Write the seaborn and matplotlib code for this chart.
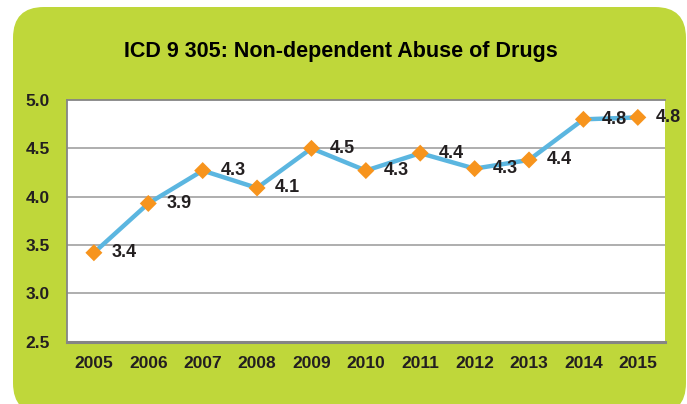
import matplotlib
matplotlib.use("Agg")
import matplotlib.pyplot as plt
from matplotlib.patches import FancyBboxPatch
import seaborn as sns
import pandas as pd

years = ["2005", "2006", "2007", "2008", "2009", "2010", "2011", "2012", "2013", "2014", "2015"]
values = [3.42, 3.93, 4.27, 4.09, 4.50, 4.27, 4.45, 4.29, 4.38, 4.80, 4.82]
labels = ["3.4", "3.9", "4.3", "4.1", "4.5", "4.3", "4.4", "4.3", "4.4", "4.8", "4.8"]
y_ticks = [2.5, 3.0, 3.5, 4.0, 4.5, 5.0]
title = "ICD 9 305: Non-dependent Abuse of Drugs"

sns.set_theme(style="white")
FONT = ["Liberation Sans Narrow", "Liberation Sans", "DejaVu Sans"]
plt.rcParams["font.family"] = FONT

GREEN = "#BFD73A"
BLUE = "#5BB6E0"
ORANGE = "#F7941D"
GRID = "#A8A8A8"
SPINE = "#858585"
TXT = "#231F20"

df = pd.DataFrame({"year": years, "value": values})

fig = plt.figure(figsize=(6.87, 4.04), dpi=100)
fig.patch.set_facecolor("white")

W, H = 687.0, 404.0
bg = FancyBboxPatch((13 / W, -10 / H), (686 - 13) / W, (404 - 7 + 10) / H,
                    boxstyle="round,pad=0,rounding_size=0.045",
                    transform=fig.transFigure, facecolor=GREEN, edgecolor="none",
                    mutation_aspect=W / H, zorder=-5)
fig.patches.append(bg)

ax = fig.add_axes([66.7 / W, (H - 341.7) / H, (665 - 66.7) / W, (341.7 - 100) / H])
ax.set_zorder(2)
ax.set_facecolor("white")

sns.lineplot(data=df, x="year", y="value", ax=ax, color=BLUE, linewidth=3.2,
             sort=False, zorder=3)
sns.scatterplot(data=df, x="year", y="value", ax=ax, color=ORANGE, marker="D",
                s=75, edgecolor="none", zorder=4)

for i, (v, lab) in enumerate(zip(values, labels)):
    ax.annotate(lab, (i, v), xytext=(13, 0), textcoords="offset points",
                ha="left", va="center", fontsize=13, fontweight="bold",
                color=TXT, family=FONT, zorder=5, annotation_clip=False)

ax.set_xlim(-0.5, len(years) - 0.5)
ax.set_ylim(2.5, 5.0)
ax.set_yticks(y_ticks)
ax.set_yticklabels([f"{t:.1f}" for t in y_ticks])
for t in y_ticks[1:-1]:
    ax.axhline(t, color=GRID, linewidth=1.3, zorder=1)

ax.set_xlabel("")
ax.set_ylabel("")
ax.tick_params(axis="both", length=0, labelsize=12.5, colors=TXT)
ax.tick_params(axis="y", pad=12)
ax.tick_params(axis="x", pad=10)
for lab in ax.get_xticklabels() + ax.get_yticklabels():
    lab.set_fontweight("bold")
    lab.set_family(FONT)

for s in ["left", "top"]:
    ax.spines[s].set_color(SPINE)
    ax.spines[s].set_linewidth(1.3)
ax.spines["bottom"].set_color(SPINE)
ax.spines["bottom"].set_linewidth(2.2)
ax.spines["right"].set_visible(False)

fig.text(341 / W, (H - 51) / H, title, ha="center", va="center",
         fontsize=15.5, fontweight="bold", color="black", family=FONT, zorder=3)

fig.savefig("out.png", dpi=100, facecolor=fig.get_facecolor())
